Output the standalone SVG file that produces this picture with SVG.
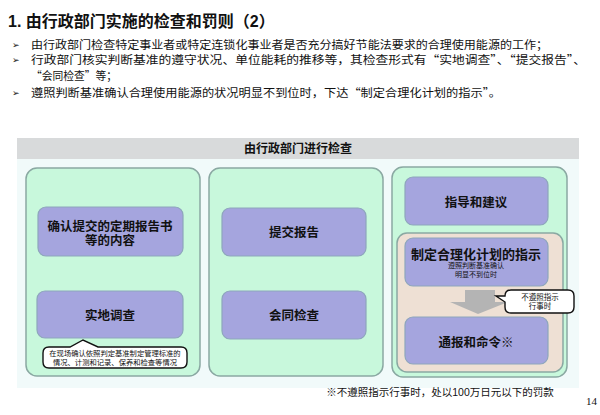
<svg xmlns="http://www.w3.org/2000/svg" width="600" height="415" viewBox="0 0 600 415">
<style>
text{font-family:"Liberation Sans","Noto Sans CJK SC",sans-serif;fill:#111}
.t{font-size:16px;font-weight:bold}
.b{font-size:11.5px;font-family:"Noto Sans CJK SC",sans-serif}
.bul{font-family:"DejaVu Sans",sans-serif;font-size:9px}
.col{fill:#c8f8dc;stroke:#8aa8a2;stroke-width:1.5}
.box{fill:#a5a5de;stroke:#8ea6bc;stroke-width:1.2}
.lbl{font-size:12.5px;font-weight:bold;text-anchor:middle}
.sm{font-size:7px;text-anchor:middle}
.co{fill:#fff;stroke:#111;stroke-width:1.4}
</style>
<rect width="600" height="415" fill="#fff"/>
<g id="title">
<text class="t" x="8" y="27">1. 由行政部门实施的检查和罚则（2）</text>
</g>
<g id="bullets">
<text class="bul" x="12" y="48">➢</text>
<text class="b" x="31" y="49" textLength="517" lengthAdjust="spacingAndGlyphs">由行政部门检查特定事业者或特定连锁化事业者是否充分搞好节能法要求的合理使用能源的工作；</text>
<text class="bul" x="12" y="63">➢</text>
<text class="b" x="31" y="64" textLength="555" lengthAdjust="spacingAndGlyphs">行政部门核实判断基准的遵守状况、单位能耗的推移等，其检查形式有“实地调查”、“提交报告”、</text>
<text class="b" x="31" y="80" textLength="86" lengthAdjust="spacingAndGlyphs">“会同检查”等；</text>
<text class="bul" x="12" y="96">➢</text>
<text class="b" x="31" y="97" textLength="470" lengthAdjust="spacingAndGlyphs">遵照判断基准确认合理使用能源的状况明显不到位时，下达“制定合理化计划的指示”。</text>
</g>
<g id="panel">
<rect x="17" y="159" width="562" height="229" fill="#f1fafa"/>
<rect x="17" y="138" width="562" height="21" fill="#d8dadb"/>
<text x="298" y="153" style="font-size:12px;font-weight:bold;text-anchor:middle">由行政部门进行检查</text>
</g>
<g id="col1">
<rect class="col" x="26" y="168" width="174" height="208" rx="11"/>
</g>
<g id="col2">
<rect class="col" x="209" y="168" width="174" height="208" rx="11"/>
</g>
<g id="col3">
<rect class="col" x="392" y="167" width="175" height="210" rx="11"/>
<rect x="397" y="233" width="166" height="139" rx="10" fill="#eee0d4" stroke="#8aa8a2" stroke-width="1.5"/>
</g>
<g id="n-report-content">
<rect class="box" x="38" y="207" width="145" height="49" rx="8"/>
<text class="lbl" x="110" y="231">确认提交的定期报告书</text>
<text class="lbl" x="110" y="245">等的内容</text>
</g>
<g id="n-field">
<rect class="box" x="37" y="291" width="146" height="47" rx="8"/>
<text class="lbl" x="110" y="320">实地调查</text>
</g>
<g id="n-field-note">
<path class="co" d="M49,347 H70 L83,340 L98,347 H181 Q187,347 187,353 V362 Q187,368 181,368 H49 Q43,368 43,362 V353 Q43,347 49,347 Z"/>
<text class="sm" x="115" y="356" style="font-size:7.3px">在现场确认依照判定基准制定管理标准的</text>
<text class="sm" x="115" y="365" style="font-size:7.3px">情况、计测和记录、保养和检查等情况</text>
</g>
<g id="n-submit">
<rect class="box" x="222" y="208" width="144" height="48" rx="8"/>
<text class="lbl" x="294" y="237">提交报告</text>
</g>
<g id="n-joint">
<rect class="box" x="222" y="291" width="144" height="48" rx="8"/>
<text class="lbl" x="294" y="320">会同检查</text>
</g>
<g id="n-guide">
<rect class="box" x="405" y="177" width="143" height="48" rx="8"/>
<text class="lbl" x="476" y="207">指导和建议</text>
</g>
<g id="n-plan">
<rect class="box" x="405" y="238" width="143" height="48" rx="8"/>
<text class="lbl" x="476" y="259" style="font-size:13px">制定合理化计划的指示</text>
<text class="sm" x="476" y="268">遵照判断基准确认</text>
<text class="sm" x="476" y="277">明显不到位时</text>
</g>
<g id="connectors">
<path d="M465,290 H495 V302 H508 L478,314 L450,302 H465 Z" fill="#b4b4b4"/>
</g>
<g id="n-note">
<path class="co" d="M511,290 H568 Q574,290 574,296 V307 Q574,313 568,313 H511 Q505,313 505,307 V302 L496,296 L505,296 Q505,290 511,290 Z"/>
<text class="sm" x="540" y="300" style="font-size:7.5px">不遵照指示</text>
<text class="sm" x="540" y="309" style="font-size:7.5px">行事时</text>
</g>
<g id="n-order">
<rect class="box" x="405" y="317" width="143" height="47" rx="8"/>
<text class="lbl" x="476" y="347">通报和命令※</text>
</g>
<g id="footnote">
<text x="440" y="396" style="font-size:10.5px;text-anchor:middle">※不遵照指示行事时，处以100万日元以下的罚款</text>
<text x="597" y="405" style="font-family:'Liberation Serif',serif;font-size:11px;text-anchor:end">14</text>
</g>
</svg>
